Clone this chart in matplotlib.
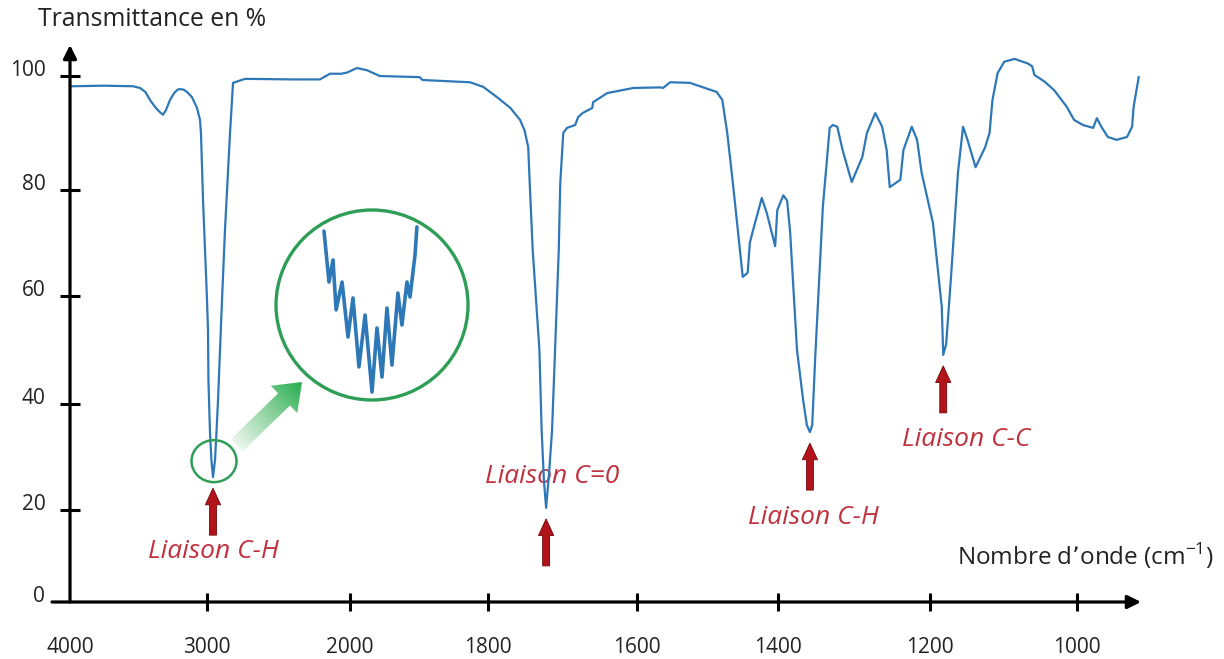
import numpy as np
import matplotlib
matplotlib.use('Agg')
import matplotlib.pyplot as plt
from matplotlib.patches import Ellipse, FancyArrow
from matplotlib.colors import LinearSegmentedColormap

plt.rcParams['font.family'] = ['Open Sans', 'DejaVu Sans']

# IR spectrum (wavenumber in cm-1, transmittance in %)
wavenumber = [3985, 3750, 3540, 3489, 3450, 3416, 3380, 3350, 3321, 3300,
              3270, 3240, 3215, 3197, 3170, 3146, 3110, 3073, 3051, 3044,
              3029, 3000, 2993, 2990, 2979, 2969, 2958, 2944, 2934, 2923,
              2909, 2895, 2874, 2839, 2818, 2734, 2400, 2210, 2140, 2060,
              2021, 1990, 1975, 1957, 1899, 1895, 1826, 1807, 1788, 1770,
              1757, 1751, 1746, 1744, 1740, 1731, 1728, 1725, 1722, 1718,
              1714, 1710, 1705, 1703, 1699, 1694, 1683, 1679, 1673, 1660,
              1659, 1640, 1605, 1567, 1563, 1553, 1525, 1487, 1479, 1472,
              1464, 1459, 1454, 1450, 1443, 1440, 1436, 1423, 1416, 1404,
              1401, 1393, 1388, 1384, 1375, 1367, 1362, 1358, 1355, 1351,
              1341, 1332, 1328, 1322, 1315, 1303, 1289, 1283, 1272, 1263,
              1257, 1253, 1239, 1235, 1224, 1217, 1211, 1196, 1184, 1182,
              1178, 1171, 1162, 1155, 1149, 1138, 1125, 1119, 1115, 1108,
              1099, 1085, 1067, 1061, 1058, 1044, 1031, 1014, 1004, 992,
              978, 973, 966, 958, 946, 932, 925, 923, 916]
transmittance = [98.2, 98.3, 98.2, 97.9, 97.2, 95.8, 94.6, 93.8, 93.2, 94.0,
                 95.8, 97.0, 97.6, 97.7, 97.6, 97.2, 96.3, 94.4, 92.3, 90.0,
                 78.1, 59.3, 53.7, 44.4, 34.5, 29.4, 26.2, 29.4, 34.5, 40.7,
                 50.0, 59.3, 72.6, 90.0, 98.8, 99.5, 99.4, 99.4, 100.4, 100.4,
                 100.6, 101.4, 101.0, 100.0, 99.8, 99.3, 98.9, 98.1, 96.3, 94.4,
                 92.3, 90.5, 87.5, 81.2, 68.7, 50.0, 35.1, 25.7, 20.4, 27.0,
                 35.1, 50.0, 68.7, 81.2, 90.0, 90.9, 91.4, 92.8, 93.5, 94.4,
                 95.4, 97.0, 97.9, 98.0, 97.9, 98.9, 98.8, 97.2, 95.8, 90.0,
                 81.2, 75.0, 68.7, 63.6, 64.4, 70.0, 72.1, 78.5, 75.7, 69.4,
                 76.2, 79.0, 78.0, 72.0, 50.0, 40.8, 36.0, 34.7, 36.0, 48.7,
                 76.8, 90.9, 91.4, 91.1, 87.0, 81.4, 85.8, 90.0, 93.5, 91.1,
                 87.0, 80.5, 81.8, 87.0, 91.1, 88.8, 83.0, 73.8, 58.0, 49.1,
                 51.1, 64.4, 83.0, 91.1, 88.8, 84.0, 87.5, 90.0, 95.8, 100.5,
                 102.5, 103.0, 102.2, 101.7, 100.2, 99.0, 97.5, 94.6, 92.3, 91.4,
                 90.9, 92.6, 90.9, 89.3, 88.8, 89.3, 91.1, 94.6, 99.8]

bands = [2958, 1722, 1358, 1182]
band_labels = ['Liaison C-H', 'Liaison C=0', 'Liaison C-H', 'Liaison C-C']

x_ticks = [4000, 3000, 2000, 1800, 1600, 1400, 1200, 1000]
y_ticks = [0, 20, 40, 60, 80, 100]

# zoomed fine structure of the C-H band (inset, arbitrary units)
zoom_x = [25.0, 27.6, 29.7, 31.3, 34.4, 37.5, 40.1, 43.2, 46.4, 50.0,
          52.6, 55.2, 57.8, 60.4, 63.5, 65.6, 68.2, 69.8, 72.4, 73.4]
zoom_y = [88.9, 62.1, 73.7, 47.4, 62.1, 33.2, 53.7, 17.4, 44.7, 4.2,
          37.9, 12.1, 48.4, 18.4, 56.3, 39.5, 62.1, 54.2, 76.3, 91.1]

# the original drawing has unevenly spaced ticks: pixel position of each tick
W, H = 1224, 659
x_pix = [70, 207, 350, 488, 637, 778, 930, 1077]
y_pix = [57, 149, 255, 363, 469, 583]


def piecewise(xs, ys):
    xs = np.asarray(xs, float)
    ys = np.asarray(ys, float)
    o = np.argsort(xs)
    xs, ys = xs[o], ys[o]

    def f(v):
        v = np.asarray(v, float)
        out = np.interp(v, xs, ys)
        out = np.where(v < xs[0], ys[0] + (v - xs[0]) * (ys[1] - ys[0]) / (xs[1] - xs[0]), out)
        out = np.where(v > xs[-1], ys[-1] + (v - xs[-1]) * (ys[-1] - ys[-2]) / (xs[-1] - xs[-2]), out)
        return out
    return f


# forward must increase with wavenumber, so use minus the pixel position
neg_pix = [-p for p in x_pix]
fx, fx_inv = piecewise(x_ticks, neg_pix), piecewise(neg_pix, x_ticks)
px_to_wn = piecewise(x_pix, x_ticks)
fy, fy_inv = piecewise(y_ticks, y_pix), piecewise(y_pix, y_ticks)

fig = plt.figure(figsize=(W / 100, H / 100), dpi=100)
ax = fig.add_axes([0, 0, 1, 1])
ax.set_xscale('function', functions=(fx, fx_inv))
ax.set_yscale('function', functions=(fy, fy_inv))
ax.set_xlim(float(px_to_wn(0)), float(px_to_wn(W)))
ax.set_ylim(float(fy_inv(0)), float(fy_inv(H)))

for s in ax.spines.values():
    s.set_visible(False)
ax.spines['bottom'].set_position(('data', 0))
ax.spines['left'].set_position(('data', 4000))

blue = '#2e78b7'
ax.plot(wavenumber, transmittance, color=blue, lw=1.6, zorder=3,
        solid_joinstyle='round')

# axes drawn as arrows
ax.annotate('', xy=(float(px_to_wn(1141)), 0), xytext=(float(px_to_wn(52)), 0),
            arrowprops=dict(arrowstyle='-|>', color='black', lw=2.3,
                            mutation_scale=20, shrinkA=0, shrinkB=0))
ax.annotate('', xy=(4000, float(fy_inv(H - 45))), xytext=(4000, 0),
            arrowprops=dict(arrowstyle='-|>', color='black', lw=2.3,
                            mutation_scale=20, shrinkA=0, shrinkB=0))

ax.set_xticks(x_ticks, [str(v) for v in x_ticks])
ax.set_yticks(y_ticks, [str(v) for v in y_ticks], va='baseline')
ax.minorticks_off()
ax.tick_params(axis='x', direction='inout', length=13, width=2.2, pad=19,
               labelsize=15, labelcolor='#222222')
ax.tick_params(axis='y', direction='inout', length=14.5, width=2.2, pad=10.5,
               labelsize=15, labelcolor='#222222')
ax.xaxis.get_major_ticks()[0].tick1line.set_visible(False)
ax.yaxis.get_major_ticks()[0].tick1line.set_visible(False)

# band markers
band_t = np.interp(bands, wavenumber[::-1], transmittance[::-1])
label_off = [(0, -74), (6, 31), (4, -85), (23, -85)]
for wn, tv, lab, (dx, dy) in zip(bands, band_t, band_labels, label_off):
    ax.annotate('', xy=(wn, tv), xytext=(0, -58 * 0.72), textcoords='offset points',
                arrowprops=dict(arrowstyle='simple,head_length=0.6,head_width=0.55,tail_width=0.25',
                                mutation_scale=20, fc='#b3141c', ec='#700808', lw=0.6,
                                shrinkA=0, shrinkB=11 * 0.72))
    ax.annotate(lab, xy=(wn, tv), xytext=(dx * 0.72, dy * 0.72), textcoords='offset points',
                ha='center', va='center', fontsize=19, style='italic',
                color='#c0313e', zorder=1)

fig.text(38 / W, 1 - 20 / H, 'Transmittance en %', fontsize=17.8,
         ha='left', va='center', color='#222222')
fig.text(957 / W, 1 - 556 / H, 'Nombre d\u2019onde (cm$^{\\mathregular{-1}}$)', fontsize=17.5,
         ha='left', va='center', color='#222222')

# inset with the fine structure
green = '#2e9e57'
ins = fig.add_axes([276 / W, 259 / H, 192 / W, 190 / H])
ins.set_xlim(0, 100)
ins.set_ylim(0, 100)
ins.axis('off')
ins.plot(zoom_x, zoom_y, color=blue, lw=2.6, solid_joinstyle='round',
         solid_capstyle='round')
ins.add_patch(Ellipse((0.5, 0.5), 1, 1, transform=ins.transAxes, fill=False,
                      ec=green, lw=2.4, clip_on=False))

# overlay in pixel units for the small ring and the gradient arrow
ov = fig.add_axes([0, 0, 1, 1])
ov.axis('off')
cx, cy = ax.transData.transform((bands[0], band_t[0]))
ov.add_patch(Ellipse((cx + 1, cy + 16), 45, 42, fill=False, ec=green, lw=1.8))

tail = (237, 214)
d = (65, 63)
arrow = FancyArrow(tail[0], tail[1], d[0], d[1], width=17, head_width=38, head_length=25,
                   length_includes_head=True, fc='none', ec='none')
ov.add_patch(arrow)
gx = np.linspace(220, 315, 200)
gy = np.linspace(195, 290, 200)
GX, GY = np.meshgrid(gx, gy)
proj = ((GX - tail[0]) * d[0] + (GY - tail[1]) * d[1]) / (d[0] ** 2 + d[1] ** 2)
cmap = LinearSegmentedColormap.from_list('g', ['#eaf6ec', '#8fd3a0', '#27ae4f'])
im = ov.imshow(proj, extent=[220, 315, 195, 290], origin='lower', cmap=cmap,
               vmin=0, vmax=1, aspect='auto', interpolation='bilinear')
im.set_clip_path(arrow)
ov.set_xlim(0, W)
ov.set_ylim(0, H)

fig.savefig('out.png', dpi=100)
